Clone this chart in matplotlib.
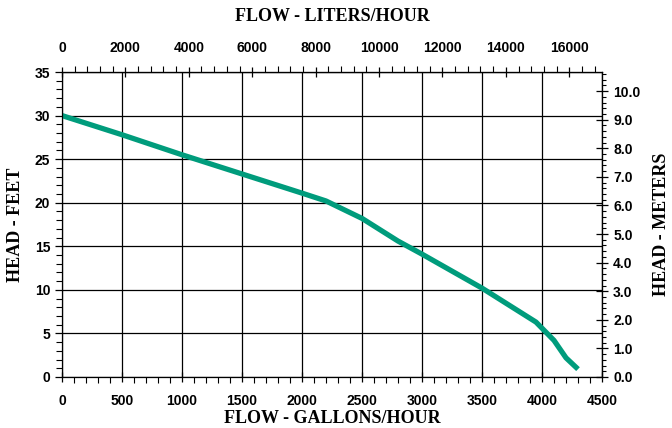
import matplotlib
matplotlib.use("Agg")
import matplotlib.pyplot as plt
from matplotlib.ticker import MultipleLocator, FixedLocator

# pump curve
flow_gph = [0, 500, 1000, 1500, 2000, 2200, 2500, 2800, 3000, 3500, 3950, 4100, 4200, 4300]
head_ft = [30.0, 27.8, 25.5, 23.3, 21.1, 20.2, 18.2, 15.6, 14.1, 10.2, 6.3, 4.2, 2.2, 0.9]

gph_ticks = [0, 500, 1000, 1500, 2000, 2500, 3000, 3500, 4000, 4500]
ft_ticks = [0, 5, 10, 15, 20, 25, 30, 35]
lph_ticks = [0, 2000, 4000, 6000, 8000, 10000, 12000, 14000, 16000]
m_ticks = [0.0, 1.0, 2.0, 3.0, 4.0, 5.0, 6.0, 7.0, 8.0, 9.0, 10.0]

L_PER_GAL = 3.785
FT_PER_M = 3.28084

serif = {"family": "Liberation Serif", "weight": "bold", "size": 13}
tickfont = "Liberation Sans"

fig = plt.figure(figsize=(6.72, 4.28), dpi=100)
ax = fig.add_axes([62 / 672, 1 - 377 / 428, 540 / 672, 305 / 428])

ax.plot(flow_gph, head_ft, color="#009c7c", lw=3.8, solid_capstyle="butt")

ax.set_xlim(0, 4500)
ax.set_ylim(0, 35)
ax.set_xticks(gph_ticks)
ax.set_yticks(ft_ticks)
ax.xaxis.set_minor_locator(MultipleLocator(100))
ax.yaxis.set_minor_locator(MultipleLocator(1))
ax.grid(True, which="major", color="black", lw=0.9)
ax.set_axisbelow(True)

ax.tick_params(axis="x", which="major", direction="inout", length=7, width=0.9, pad=9)
ax.tick_params(axis="x", which="minor", direction="out", length=4, width=0.8)
ax.tick_params(axis="y", which="major", direction="out", length=5, width=0.9)
ax.tick_params(axis="y", which="minor", direction="out", length=4, width=0.8)
ax.tick_params(which="both", labelsize=10)
for lab in ax.get_xticklabels() + ax.get_yticklabels():
    lab.set_fontfamily(tickfont)
    lab.set_fontweight("bold")

ax.set_xlabel("FLOW - GALLONS/HOUR", fontdict=serif, labelpad=1)
ax.set_ylabel("HEAD - FEET", fontdict=serif, labelpad=8)

top = ax.secondary_xaxis("top", functions=(lambda g: g * L_PER_GAL, lambda l: l / L_PER_GAL))
top.xaxis.set_major_locator(FixedLocator(lph_ticks))
top.xaxis.set_minor_locator(MultipleLocator(400))
top.tick_params(which="major", direction="inout", length=7, width=0.9, labelsize=10, pad=9)
top.tick_params(which="minor", direction="out", length=4, width=0.8)
for lab in top.get_xticklabels():
    lab.set_fontfamily(tickfont)
    lab.set_fontweight("bold")
top.set_xlabel("FLOW - LITERS/HOUR", fontdict=serif, labelpad=14)

right = ax.secondary_yaxis("right", functions=(lambda f: f / FT_PER_M, lambda m: m * FT_PER_M))
right.yaxis.set_major_locator(FixedLocator(m_ticks))
right.yaxis.set_minor_locator(MultipleLocator(0.2))
right.yaxis.set_major_formatter(lambda v, p: f"{v:.1f}")
right.tick_params(which="major", direction="inout", length=9, width=0.9, labelsize=10)
right.tick_params(which="minor", direction="out", length=3, width=0.8)
for lab in right.get_yticklabels():
    lab.set_fontfamily(tickfont)
    lab.set_fontweight("bold")
right.set_ylabel("HEAD - METERS", fontdict=serif, labelpad=9)

for sp in ax.spines.values():
    sp.set_linewidth(0.9)

fig.savefig("out.png", dpi=100)
